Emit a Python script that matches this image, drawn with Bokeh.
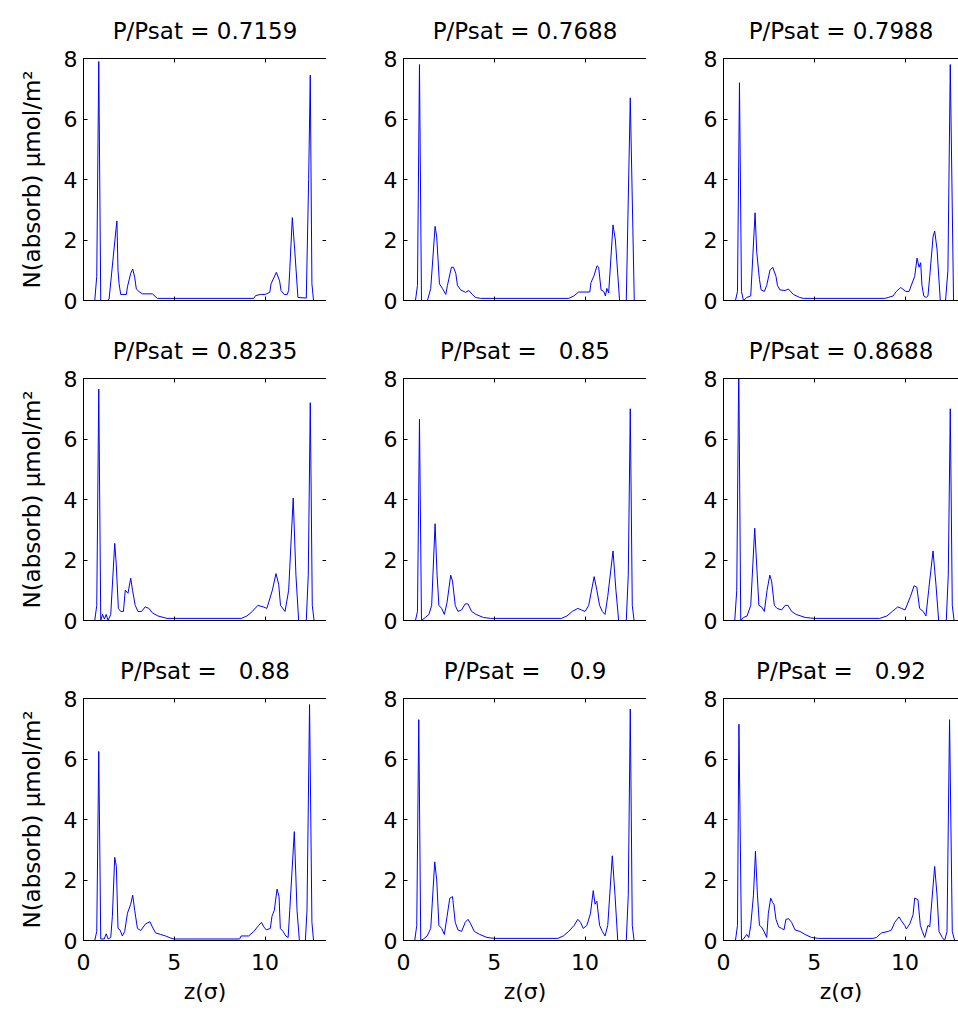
from bokeh.plotting import figure
from bokeh.layouts import column, row
from bokeh.models import LinearAxis, Range1d, FixedTicker, CustomLabelingPolicy
from bokeh.embed import file_html
from bokeh.resources import INLINE

# Relative pressures, one panel each (row by row)
titles = [
    "P/Psat = 0.7159", "P/Psat = 0.7688", "P/Psat = 0.7988",
    "P/Psat = 0.8235", "P/Psat =\u00a0\u00a0\u00a00.85", "P/Psat = 0.8688",
    "P/Psat =\u00a0\u00a0\u00a00.88", "P/Psat =\u00a0\u00a0\u00a0\u00a00.9", "P/Psat =\u00a0\u00a0\u00a00.92",
]

# Adsorbed density profiles across the pore: z (sigma) and N (umol/m^2)
z_0716 = [0, 0.62, 0.73, 0.84, 0.95, 1.32, 1.41, 1.78, 1.84, 1.9, 1.96, 2.05, 2.36, 2.42, 2.6, 2.71, 2.82,
          2.91, 3.05, 3.24, 3.79, 4.07, 9.38, 9.47, 9.74, 10.0, 10.26, 10.33, 10.62, 10.8, 10.88, 11.05,
          11.22, 11.3, 11.36, 11.5, 11.63, 11.81, 12.27, 12.4, 12.49, 12.58, 12.67, 13.4]
n_0716 = [0, 0, 0.8, 7.9, 0, 0, 0.05, 2.3, 2.63, 1.0, 0.55, 0.2, 0.2, 0.45, 0.9, 1.04, 0.77,
          0.38, 0.3, 0.22, 0.22, 0.07, 0.07, 0.16, 0.2, 0.2, 0.27, 0.55, 0.93, 0.65, 0.33, 0.2,
          0.2, 0.33, 1.0, 2.74, 1.7, 0.1, 0.08, 4.0, 7.45, 0.55, 0, 0]

z_0769 = [0, 0.66, 0.77, 0.88, 0.99, 1.32, 1.5, 1.74, 1.83, 1.98, 2.14, 2.33, 2.42, 2.64, 2.75, 2.88, 2.97,
          3.15, 3.42, 3.6, 3.79, 3.97, 4.25, 9.1, 9.38, 9.65, 10.26, 10.33, 10.48, 10.66, 10.75, 10.88,
          11.03, 11.12, 11.2, 11.3, 11.54, 11.67, 11.9, 12.27, 12.49, 12.71, 13.4]
n_0769 = [0, 0, 0.5, 7.8, 0, 0, 0.4, 2.45, 2.1, 0.55, 0.4, 0.2, 0.5, 1.1, 1.1, 0.9, 0.5,
          0.35, 0.27, 0.33, 0.2, 0.1, 0.07, 0.07, 0.15, 0.28, 0.28, 0.6, 0.8, 1.15, 1.1, 0.35,
          0.3, 0.15, 0.4, 0.25, 2.5, 2.0, 0, 0, 6.7, 0, 0]

z_0799 = [0, 0.66, 0.77, 0.88, 0.99, 1.1, 1.28, 1.5, 1.74, 1.83, 1.98, 2.07, 2.25, 2.38, 2.56, 2.71, 2.89,
          2.97, 3.11, 3.39, 3.57, 3.85, 4.2, 4.4, 8.88, 9.07, 9.34, 9.52, 9.76, 10.04, 10.22, 10.53,
          10.66, 10.77, 10.86, 10.93, 11.03, 11.17, 11.26, 11.36, 11.54, 11.63, 11.76, 11.94, 12.23,
          12.36, 12.49, 12.67, 13.4]
n_0799 = [0, 0, 0.3, 7.2, 0.3, 0, 0.1, 0.15, 2.9, 1.6, 0.7, 0.35, 0.3, 0.5, 1.0, 1.1, 0.8,
          0.5, 0.35, 0.33, 0.38, 0.2, 0.1, 0.07, 0.07, 0.1, 0.15, 0.3, 0.43, 0.3, 0.3, 0.8,
          1.4, 1.1, 1.25, 0.5, 0.15, 0.1, 0.15, 0.8, 2.1, 2.3, 1.7, 0, 0,
          1.0, 7.8, 0, 0]

z_0824 = [0, 0.62, 0.73, 0.84, 0.95, 1.05, 1.15, 1.25, 1.35, 1.5, 1.72, 1.8, 1.92, 2.05, 2.2, 2.3, 2.45,
          2.6, 2.7, 2.85, 3.0, 3.2, 3.4, 3.6, 3.8, 4.1, 4.6, 8.7, 9.0, 9.3, 9.6, 9.9, 10.1, 10.4,
          10.6, 10.75, 10.85, 11.1, 11.3, 11.55, 11.7, 11.85, 12.27, 12.38, 12.49, 12.6, 12.7, 13.4]
n_0824 = [0, 0, 0.5, 7.65, 0, 0.2, 0.05, 0.2, 0, 0.2, 2.55, 1.9, 0.4, 0.3, 0.3, 1.0, 0.9,
          1.4, 1.0, 0.5, 0.3, 0.3, 0.45, 0.4, 0.25, 0.15, 0.07, 0.07, 0.15, 0.3, 0.5, 0.45, 0.4, 1.0,
          1.55, 1.2, 0.5, 0.3, 1.0, 4.05, 1.5, 0, 0, 1.5, 7.2, 0.5, 0, 0]

z_0850 = [0, 0.66, 0.77, 0.88, 0.99, 1.2, 1.4, 1.55, 1.74, 1.85, 1.95, 2.1, 2.25, 2.4, 2.6, 2.7, 2.85,
          3.0, 3.2, 3.4, 3.55, 3.75, 4.0, 4.4, 4.8, 8.7, 9.0, 9.3, 9.6, 9.8, 10.0, 10.2, 10.5, 10.65,
          10.8, 10.95, 11.1, 11.25, 11.54, 11.7, 11.85, 12.27, 12.38, 12.49, 12.6, 12.7, 13.4]
n_0850 = [0, 0, 0.3, 6.65, 0, 0.1, 0.2, 0.5, 3.2, 1.5, 0.5, 0.4, 0.2, 0.6, 1.5, 1.3, 0.5,
          0.3, 0.35, 0.55, 0.55, 0.3, 0.2, 0.1, 0.07, 0.07, 0.15, 0.3, 0.4, 0.35, 0.3, 0.5, 1.45, 1.0,
          0.5, 0.3, 0.2, 0.8, 2.3, 1.0, 0, 0, 1.5, 7.0, 0.5, 0, 0]

z_0869 = [0, 0.62, 0.73, 0.84, 0.95, 1.1, 1.3, 1.5, 1.72, 1.83, 1.95, 2.1, 2.25, 2.4, 2.55, 2.65, 2.8,
          2.95, 3.2, 3.4, 3.55, 3.75, 4.0, 4.5, 5.0, 8.6, 9.0, 9.3, 9.6, 9.8, 10.0, 10.3, 10.5, 10.65,
          10.8, 11.0, 11.15, 11.3, 11.54, 11.7, 11.85, 12.27, 12.38, 12.49, 12.6, 12.7, 13.4]
n_0869 = [0, 0, 1.0, 8.4, 0, 0.1, 0.15, 0.5, 3.05, 1.8, 0.5, 0.45, 0.3, 1.0, 1.5, 1.3, 0.5,
          0.4, 0.35, 0.5, 0.5, 0.3, 0.2, 0.1, 0.07, 0.07, 0.15, 0.3, 0.45, 0.4, 0.35, 0.8, 1.15, 1.1,
          0.4, 0.3, 0.15, 1.0, 2.3, 1.2, 0, 0, 1.5, 7.0, 0.5, 0, 0]

z_0880 = [0, 0.62, 0.73, 0.84, 0.95, 1.14, 1.25, 1.36, 1.5, 1.59, 1.72, 1.81, 1.9, 2.01, 2.14, 2.27, 2.42,
          2.6, 2.71, 2.82, 2.97, 3.15, 3.42, 3.66, 3.79, 3.97, 4.25, 4.52, 4.8, 4.98, 8.6, 8.68, 9.1,
          9.38, 9.65, 9.8, 9.93, 10.07, 10.29, 10.38, 10.51, 10.66, 10.77, 10.84, 10.99, 11.14, 11.27,
          11.36, 11.61, 11.76, 11.89, 12.22, 12.31, 12.45, 12.58, 12.67, 13.4]
n_0880 = [0, 0, 0.3, 6.25, 0.05, 0.05, 0.22, 0.05, 0.1, 0.8, 2.75, 2.45, 0.4, 0.35, 0.15, 0.3, 0.9,
          1.2, 1.5, 1.0, 0.4, 0.33, 0.55, 0.62, 0.45, 0.25, 0.2, 0.15, 0.08, 0.05, 0.05, 0.15, 0.15,
          0.3, 0.5, 0.6, 0.45, 0.35, 0.4, 0.8, 1.0, 1.7, 1.45, 0.4, 0.3, 0.15, 0.1,
          1.0, 3.6, 1.0, 0, 0, 1.0, 7.8, 0.6, 0, 0]

z_0900 = [0, 0.62, 0.73, 0.84, 0.95, 1.1, 1.3, 1.5, 1.72, 1.83, 1.95, 2.1, 2.25, 2.4, 2.55, 2.7, 2.85,
          3.0, 3.2, 3.4, 3.55, 3.7, 3.9, 4.2, 4.6, 5.0, 8.5, 8.8, 9.1, 9.4, 9.6, 9.75, 9.9, 10.1,
          10.3, 10.45, 10.55, 10.65, 10.8, 10.95, 11.1, 11.25, 11.5, 11.65, 11.8, 12.27, 12.38, 12.49,
          12.6, 12.7, 13.4]
n_0900 = [0, 0, 0.5, 7.3, 0, 0.05, 0.15, 0.4, 2.6, 2.0, 0.5, 0.4, 0.2, 0.8, 1.4, 1.45, 0.6,
          0.35, 0.3, 0.6, 0.7, 0.55, 0.3, 0.2, 0.1, 0.07, 0.07, 0.15, 0.3, 0.5, 0.7, 0.6, 0.4, 0.5,
          0.9, 1.65, 1.2, 1.3, 0.5, 0.3, 0.15, 0.5, 2.8, 1.5, 0, 0, 1.5, 7.65,
          0.5, 0, 0]

z_0920 = [0, 0.66, 0.77, 0.85, 0.99, 1.1, 1.28, 1.39, 1.5, 1.65, 1.76, 1.87, 1.98, 2.09, 2.23, 2.38, 2.47,
          2.6, 2.71, 2.78, 2.89, 3.04, 3.2, 3.33, 3.44, 3.59, 3.75, 3.94, 4.21, 4.49, 4.85, 5.22, 8.24,
          8.42, 8.7, 9.07, 9.25, 9.43, 9.67, 9.8, 9.98, 10.07, 10.26, 10.44, 10.53, 10.71, 10.84, 10.95,
          11.08, 11.26, 11.36, 11.63, 11.76, 11.87, 12.05, 12.18, 12.31, 12.45, 12.6, 12.73, 13.4]
n_0920 = [0, 0, 0.5, 7.15, 0, 0.05, 0.2, 0.1, 0.5, 1.5, 2.95, 1.5, 0.5, 0.45, 0.3, 0.1, 0.9,
          1.4, 1.25, 1.2, 0.7, 0.45, 0.4, 0.35, 0.7, 0.72, 0.6, 0.35, 0.3, 0.2, 0.1, 0.07, 0.07,
          0.1, 0.25, 0.3, 0.35, 0.6, 0.78, 0.65, 0.5, 0.38, 0.55, 0.85, 1.4, 1.35, 0.5, 0.3,
          0.1, 0.5, 0.45, 2.45, 1.5, 0.3, 0.1, 0, 0.3, 7.3, 0.3, 0, 0]

profiles = [
    (z_0716, n_0716), (z_0769, n_0769), (z_0799, n_0799),
    (z_0824, n_0824), (z_0850, n_0850), (z_0869, n_0869),
    (z_0880, n_0880), (z_0900, n_0900), (z_0920, n_0920),
]

y_ticks = [0, 2, 4, 6, 8]
x_ticks = [0, 5, 10]
x_label = "z(\u03c3)"
y_label = "N(absorb) \u03bcmol/m\u00b2"

FONT = "DejaVu Sans"
XMAX = 13.4
YMAX = 8

# Layout geometry (pixels)
col_width = [326, 320, 312]
col_left = [83, 77, 77]
frame_w = 243.3
row_height = [320, 320, 372]
row_bottom = [20, 20, 72]
top_border = 57

# Tick marks only, no tick labels (top/right box sides and inner panels)
NO_LABELS = CustomLabelingPolicy(code="for (const i of indices) indices.unset(i); return indices")


def make_axis(ticks, show_labels, standoff=6):
    ax = LinearAxis(ticker=FixedTicker(ticks=ticks))
    ax.major_tick_in = 4
    ax.major_tick_out = 0
    ax.minor_tick_line_color = None
    ax.axis_line_color = "black"
    ax.major_tick_line_color = "black"
    ax.major_label_text_font = FONT
    ax.major_label_text_color = "black"
    if show_labels:
        ax.major_label_text_font_size = "22px"
        ax.major_label_standoff = standoff
    else:
        ax.major_label_text_font_size = "0px"
        ax.major_label_policy = NO_LABELS
        ax.major_label_standoff = 0
    ax.axis_label_text_font = FONT
    ax.axis_label_text_font_style = "normal"
    ax.axis_label_text_color = "black"
    return ax


rows = []
for r in range(3):
    figs = []
    for c in range(3):
        k = 3 * r + c
        z, n = profiles[k]
        frame_px = col_width[c] - col_left[c]
        x_end = XMAX * frame_px / frame_w
        p = figure(
            width=col_width[c], height=row_height[r],
            x_range=Range1d(0, x_end), y_range=Range1d(0, YMAX),
            x_axis_type=None, y_axis_type=None,
            output_backend="svg", toolbar_location=None,
            min_border_left=col_left[c], min_border_right=0,
            min_border_top=top_border, min_border_bottom=row_bottom[r],
            title=titles[k],
        )
        p.outline_line_color = None
        p.background_fill_color = "white"
        p.border_fill_color = "white"
        p.title.text_font = FONT
        p.title.text_font_size = "23px"
        p.title.text_font_style = "normal"
        p.title.text_color = "black"
        p.title.align = "center"
        p.title.standoff = 30

        left = make_axis(y_ticks, True)
        if c == 0:
            left.axis_label = y_label
            left.axis_label_text_font_size = "23px"
            left.axis_label_standoff = 16
        p.add_layout(left, "left")

        bottom = make_axis(x_ticks, r == 2, standoff=13)
        if r == 2:
            bottom.axis_label = x_label
            bottom.axis_label_text_font_size = "22px"
            bottom.axis_label_standoff = 6
        p.add_layout(bottom, "below")

        p.add_layout(make_axis(x_ticks, False), "above")
        if c < 2:
            p.add_layout(make_axis(y_ticks, False), "right")

        p.line(z, n, line_color="#0000ff", line_width=1)
        figs.append(p)
    rows.append(row(*figs))

layout = column(*rows)
open("out.html", "w").write(file_html(layout, INLINE))
